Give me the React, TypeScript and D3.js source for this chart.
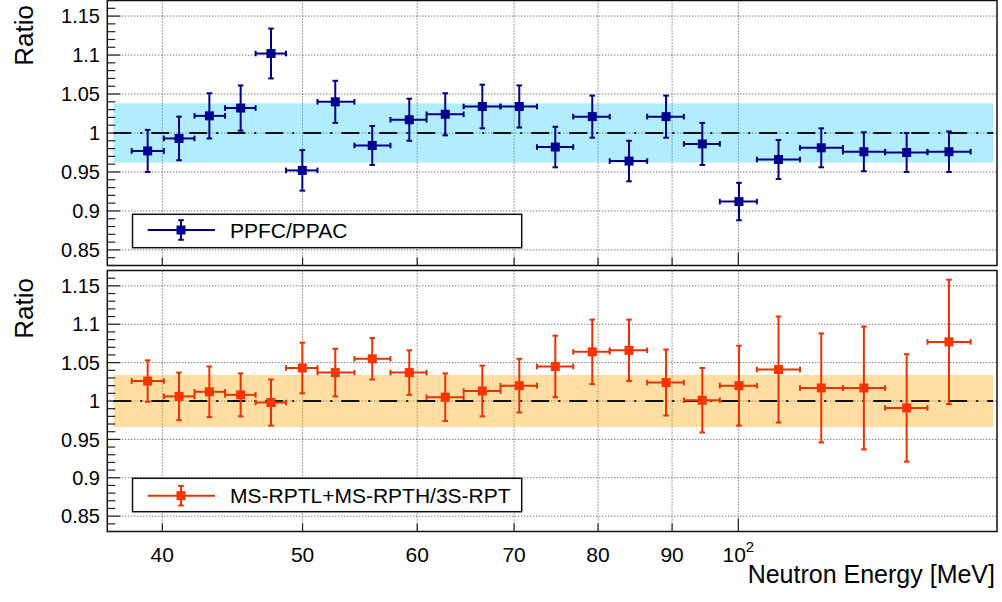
import React, { useEffect, useRef } from 'react';
import * as d3 from 'd3';

// bin centres and edges [MeV]
const energy = [39.08, 41.08, 43.11, 45.31, 47.55, 49.98, 52.67, 55.86, 59.25, 62.74, 66.55, 70.58,
  74.74, 79.27, 84.04, 89.14, 94.43, 100.1, 106.6, 114.1, 122.1, 130.7, 139.8];
const binEdges = [38.1, 40.1, 42.1, 44.2, 46.4, 48.7, 51.2, 54.3, 57.5, 60.9, 64.6, 68.5, 72.6,
  76.9, 81.5, 86.5, 91.7, 97.1, 103.0, 110.3, 118.1, 126.3, 135.1, 144.7];

const ratioFC = [0.977, 0.993, 1.022, 1.032, 1.102, 0.952, 1.040, 0.984, 1.017, 1.024, 1.034, 1.034,
  0.982, 1.021, 0.964, 1.021, 0.986, 0.912, 0.966, 0.981, 0.976, 0.975, 0.976];
const errFC = [0.027, 0.028, 0.029, 0.029, 0.032, 0.026, 0.027, 0.025, 0.027, 0.027, 0.028, 0.027,
  0.026, 0.027, 0.026, 0.027, 0.027, 0.024, 0.025, 0.025, 0.025, 0.025, 0.026];

const ratioRPT = [1.026, 1.006, 1.012, 1.008, 0.998, 1.043, 1.037, 1.055, 1.037, 1.005, 1.013, 1.020,
  1.045, 1.064, 1.066, 1.024, 1.001, 1.020, 1.041, 1.017, 1.017, 0.991, 1.077];
const errRPT = [0.027, 0.031, 0.033, 0.028, 0.030, 0.033, 0.031, 0.027, 0.029, 0.031, 0.033, 0.035,
  0.040, 0.042, 0.040, 0.043, 0.042, 0.052, 0.069, 0.071, 0.080, 0.070, 0.081];

const bandFC = 0.038;
const bandRPT = 0.034;
const bandEnergy = [37, 150];

const yTicks = [0.85, 0.9, 0.95, 1, 1.05, 1.1, 1.15];
const yTickLabels = ['0.85', '0.9', '0.95', '1', '1.05', '1.1', '1.15'];
const xTicks = [40, 50, 60, 70, 80, 90, 100];
const xTickLabels = ['40', '50', '60', '70', '80', '90', '10^2'];

const legendFC = 'PPFC/PPAC';
const legendRPT = 'MS-RPTL+MS-RPTH/3S-RPT';

const font = '"Liberation Sans", Arial, Helvetica, sans-serif';

const App = () => {
  const ref = useRef(null);

  useEffect(() => {
    const svg = d3.select(ref.current);
    svg.selectAll('*').remove();

    const left = 107.3;
    const right = 997;
    const x = d3.scaleLog().domain([36.65, 150.9]).range([left, right]);

    const pads = [
      {
        top: 0.5, bottom: 265.5, ratio: ratioFC, err: errFC, band: bandFC, fill: '#00c4ff', fillOp: 0.3,
        line: '#000080', marker: '#000090', label: legendFC, legendY: 230, legendBox: [214.3, 247.7],
        titleY: 5, xLabels: false,
      },
      {
        top: 270.5, bottom: 531.5, ratio: ratioRPT, err: errRPT, band: bandRPT, fill: '#ffa200', fillOp: 0.36,
        line: '#e83200', marker: '#ff3300', label: legendRPT, legendY: 495.7, legendBox: [478.3, 511.7],
        titleY: 278, xLabels: true,
      },
    ];

    pads.forEach(pad => {
      const y = d3.scaleLinear().domain([0.83, 1.17]).range([pad.bottom, pad.top]);
      const g = svg.append('g');

      // grid
      g.selectAll('.hgrid')
        .data(yTicks)
        .join('line')
        .attr('x1', left).attr('x2', right)
        .attr('y1', d => y(d)).attr('y2', d => y(d))
        .attr('stroke', '#444').attr('stroke-width', 1).attr('stroke-dasharray', '1 2');
      g.selectAll('.vgrid')
        .data(xTicks)
        .join('line')
        .attr('x1', d => x(d)).attr('x2', d => x(d))
        .attr('y1', pad.top).attr('y2', pad.bottom)
        .attr('stroke', '#444').attr('stroke-width', 1).attr('stroke-dasharray', '1 2');

      // systematic band
      g.append('rect')
        .attr('x', x(bandEnergy[0]))
        .attr('width', x(bandEnergy[1]) - x(bandEnergy[0]))
        .attr('y', y(1 + pad.band))
        .attr('height', y(1 - pad.band) - y(1 + pad.band))
        .attr('fill', pad.fill)
        .attr('fill-opacity', pad.fillOp);

      // unity line
      g.append('line')
        .attr('x1', x(bandEnergy[0])).attr('x2', x(bandEnergy[1]))
        .attr('y1', y(1)).attr('y2', y(1))
        .attr('stroke', '#111').attr('stroke-width', 2)
        .attr('stroke-dasharray', '18 9 2 9');

      // error bars
      const pts = g.selectAll('.pt')
        .data(energy.map((e, i) => ({ e, lo: binEdges[i], hi: binEdges[i + 1], v: pad.ratio[i], s: pad.err[i] })))
        .join('g');
      const cap = 2.8;
      pts.append('line')
        .attr('x1', d => x(d.lo)).attr('x2', d => x(d.hi))
        .attr('y1', d => y(d.v)).attr('y2', d => y(d.v));
      pts.append('line')
        .attr('x1', d => x(d.e)).attr('x2', d => x(d.e))
        .attr('y1', d => y(d.v - d.s)).attr('y2', d => y(d.v + d.s));
      pts.append('line')
        .attr('x1', d => x(d.lo)).attr('x2', d => x(d.lo))
        .attr('y1', d => y(d.v) - cap).attr('y2', d => y(d.v) + cap);
      pts.append('line')
        .attr('x1', d => x(d.hi)).attr('x2', d => x(d.hi))
        .attr('y1', d => y(d.v) - cap).attr('y2', d => y(d.v) + cap);
      pts.append('line')
        .attr('x1', d => x(d.e) - cap).attr('x2', d => x(d.e) + cap)
        .attr('y1', d => y(d.v + d.s)).attr('y2', d => y(d.v + d.s));
      pts.append('line')
        .attr('x1', d => x(d.e) - cap).attr('x2', d => x(d.e) + cap)
        .attr('y1', d => y(d.v - d.s)).attr('y2', d => y(d.v - d.s));
      pts.selectAll('line').attr('stroke', pad.line).attr('stroke-width', 2);
      pts.append('rect')
        .attr('x', d => x(d.e) - 4.5).attr('y', d => y(d.v) - 4.5)
        .attr('width', 9).attr('height', 9)
        .attr('fill', pad.marker);

      // frame
      g.append('rect')
        .attr('x', left).attr('y', pad.top)
        .attr('width', right - left).attr('height', pad.bottom - pad.top)
        .attr('fill', 'none').attr('stroke', '#111').attr('stroke-width', 1.5);

      // y ticks
      g.selectAll('.yminor')
        .data(y.ticks(34))
        .join('line')
        .attr('x1', left).attr('x2', d => left + (yTicks.some(t => Math.abs(t - d) < 1e-6) ? 13 : 8))
        .attr('y1', d => y(d)).attr('y2', d => y(d))
        .attr('stroke', '#222').attr('stroke-width', 1.2);
      g.selectAll('.ylab')
        .data(yTicks)
        .join('text')
        .attr('x', 100)
        .attr('y', d => y(d))
        .attr('dy', '0.36em')
        .attr('text-anchor', 'end')
        .attr('font-family', font)
        .attr('font-size', 20)
        .attr('fill', '#000')
        .text((d, i) => yTickLabels[i]);

      // x ticks
      g.selectAll('.xtick')
        .data(xTicks)
        .join('line')
        .attr('x1', d => x(d)).attr('x2', d => x(d))
        .attr('y1', pad.bottom).attr('y2', d => pad.bottom - (d === 100 ? 13 : 8))
        .attr('stroke', '#222').attr('stroke-width', 1.2);

      if (pad.xLabels) {
        xTicks.forEach((t, i) => {
          const lab = xTickLabels[i];
          const txt = g.append('text')
            .attr('x', x(t))
            .attr('y', 561.7)
            .attr('text-anchor', 'middle')
            .attr('font-family', font)
            .attr('font-size', 21)
            .attr('fill', '#000');
          if (lab.includes('^')) {
            const [base, sup] = lab.split('^');
            txt.append('tspan').text(base);
            txt.append('tspan').attr('dy', -10).attr('font-size', 15).text(sup);
          } else {
            txt.text(lab);
          }
        });
        g.append('text')
          .attr('x', 995)
          .attr('y', 583)
          .attr('text-anchor', 'end')
          .attr('font-family', font)
          .attr('font-size', 25)
          .attr('fill', '#000')
          .text('Neutron Energy [MeV]');
      }

      // axis title
      g.append('text')
        .attr('transform', `translate(33, ${pad.titleY}) rotate(-90)`)
        .attr('text-anchor', 'end')
        .attr('font-family', font)
        .attr('font-size', 26)
        .attr('fill', '#000')
        .text('Ratio');

      // legend
      const lg = g.append('g');
      lg.append('rect')
        .attr('x', 132.5).attr('y', pad.legendBox[0])
        .attr('width', 521.7 - 132.5).attr('height', pad.legendBox[1] - pad.legendBox[0])
        .attr('fill', '#fff').attr('stroke', '#111').attr('stroke-width', 1.5);
      const ly = pad.legendY;
      lg.append('line').attr('x1', 147.7).attr('x2', 215).attr('y1', ly).attr('y2', ly);
      lg.append('line').attr('x1', 181).attr('x2', 181).attr('y1', ly - 9.8).attr('y2', ly + 9.8);
      lg.append('line').attr('x1', 181 - cap).attr('x2', 181 + cap).attr('y1', ly - 9.8).attr('y2', ly - 9.8);
      lg.append('line').attr('x1', 181 - cap).attr('x2', 181 + cap).attr('y1', ly + 9.8).attr('y2', ly + 9.8);
      lg.selectAll('line').attr('stroke', pad.line).attr('stroke-width', 2);
      lg.append('rect')
        .attr('x', 181 - 4.5).attr('y', ly - 4.5).attr('width', 9).attr('height', 9)
        .attr('fill', pad.marker);
      lg.append('text')
        .attr('x', 230)
        .attr('y', ly + 7.5)
        .attr('font-family', font)
        .attr('font-size', 21)
        .attr('fill', '#000')
        .text(pad.label);
    });
  }, []);

  return (
    <div style={{ position: 'fixed', left: 0, top: 0, background: '#fff' }}>
      <svg ref={ref} width={1002} height={602} style={{ display: 'block' }} />
    </div>
  );
};

export default App;
